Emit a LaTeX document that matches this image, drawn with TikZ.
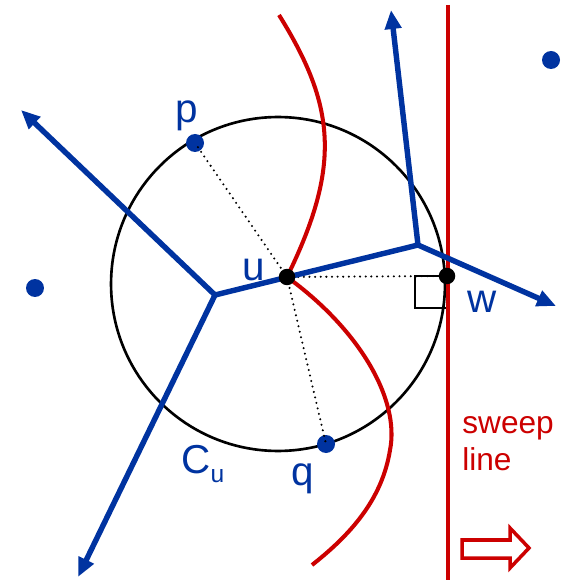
\documentclass[tikz,border=0pt]{standalone}
\usepackage{fontspec}
\setmainfont{Liberation Sans}
\usepackage{xcolor}
\usepackage{tikz}
\usetikzlibrary{arrows.meta}
\definecolor{vorBlue}{HTML}{0033A0}
\definecolor{sweepRed}{HTML}{CC0000}
\tikzset{
  vedge/.style = {draw=vorBlue, line width=3.1pt, line join=miter},
  vtip/.style = {-{Triangle[length=0.38cm, width=0.32cm]}},
  site/.style = {circle, fill=vorBlue, minimum size=0.36cm, inner sep=0pt},
  event/.style = {circle, fill=black, minimum size=0.33cm, inner sep=0pt},
  beach/.style = {draw=sweepRed, line width=2.3pt},
  radius line/.style = {draw=black, line width=1.3pt, line cap=round, dash pattern=on 0pt off 3.2pt},
  lbl/.style = {anchor=base, text=vorBlue, inner sep=0pt, font=\fontsize{23}{26}\selectfont},
}

\begin{document}
\begin{tikzpicture}[x=0.02cm,y=-0.02cm]
  \useasboundingbox (0,0) rectangle (562,580);

  % empty circle C_u
  \node[circle, draw=black, line width=1.5pt, minimum size=6.68cm, inner sep=0pt] (cu) at (278,284) {};

  % sites and circle events
  \foreach \n/\x/\y in {p/195/143, q/326/444, sa/35/288, sb/551/60}{
    \node[site] (\n) at (\x,\y) {};
  }
  \coordinate (u) at (287,277);
  \coordinate (w) at (447,276);

  \draw[radius line] (u) -- (p.center);
  \draw[radius line] (u) -- (q.center);
  \draw[radius line] (u) -- (w);
  \draw[black, line width=1.2pt] (415,276) rectangle (447,308);

  % beach line
  \draw[beach] (279,15) .. controls (335,105) and (342,165) .. (u);
  \draw[beach] (u) .. controls (360,330) and (400,400) .. (390,450)
                   .. controls (382,500) and (350,535) .. (312,565);

  % sweep line
  \draw[sweepRed, line width=2.2pt] (448,5) -- (448,580);
  \draw[sweepRed, line width=2pt, fill=white] (462,540) -- (510,540) -- (510,528) -- (529,548)
    -- (510,568) -- (510,558) -- (462,558) -- cycle;
  \node[anchor=base west, align=left, text=sweepRed, inner sep=0pt,
        font=\fontsize{18}{20.5}\selectfont] (sl) at (462,470) {sweep\\line};

  % Voronoi edges
  \coordinate (va) at (215,295);
  \coordinate (vb) at (418,245);
  \draw[vedge, {Triangle[length=0.38cm, width=0.32cm]}-{Triangle[length=0.38cm, width=0.32cm]}]
    (21,110) -- (va) -- (vb) -- (391,10);
  \draw[vedge, vtip] (va) -- (78,577);
  \draw[vedge, vtip] (vb) -- (556,306);

  \node[event] (ud) at (u) {};
  \node[event] (wd) at (w) {};

  % labels
  \node[lbl] (lp) at (187,123) {p};
  \node[lbl] (lu) at (254,280) {u};
  \node[lbl] (lw) at (482,312) {w};
  \node[lbl] (lq) at (303,485) {q};
  \node[lbl, anchor=base west] (lc) at (181,473) {C\raisebox{-0.18cm}{\fontsize{14}{16}\selectfont u}};
\end{tikzpicture}
\end{document}
